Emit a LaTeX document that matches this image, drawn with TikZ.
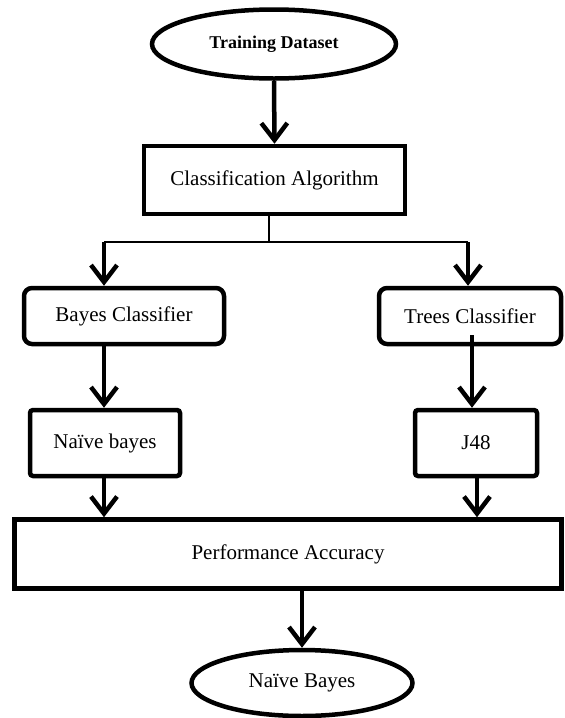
\documentclass[tikz,border=0pt]{standalone}
\usepackage{fontspec}
\setmainfont{Liberation Serif}
\usetikzlibrary{shapes.geometric,arrows.meta}

\begin{document}
\begin{tikzpicture}[x=1pt,y=-1pt,
    box/.style={draw,line width=4.5pt,inner sep=0pt,font=\fontsize{21}{24}\selectfont},
    oval/.style={box,ellipse},
    arr/.style={line width=4.5pt,-{Straight Barb[length=17pt,width=26pt]}}]
    \useasboundingbox (0,0) rectangle (565,718);
    \node[oval,minimum width=244pt,minimum height=69pt,font=\bfseries\fontsize{18}{20}\selectfont] (train) at (274,44) {Training Dataset};
    \node[box,minimum width=261pt,minimum height=68pt] (algo) at (274.5,180) {Classification Algorithm};
    \node[box,rounded corners=8pt,minimum width=200pt,minimum height=56pt] (bayes) at (124,316) {Bayes Classifier};
    \node[box,rounded corners=8pt,minimum width=182pt,minimum height=56pt] (trees) at (470,316) {Trees Classifier};
    \node[box,rounded corners=3pt,minimum width=150pt,minimum height=66pt] (nbayes) at (105,443) {Na\"ive bayes};
    \node[box,rounded corners=3pt,minimum width=122pt,minimum height=66pt] (j48) at (476,443) {J48};
    \node[box,minimum width=547pt,minimum height=69pt] (perf) at (288,554) {Performance Accuracy};
    \node[oval,minimum width=221pt,minimum height=66pt] (result) at (302,683) {Na\"ive Bayes};
    % split below the algorithm box
    \coordinate (split) at (269,242);
    \coordinate (splitL) at (104,242);
    \coordinate (splitR) at (468,242);
    \draw[arr] (train.south) -- (algo.north);
    \draw[line width=1.5pt] (split |- algo.south) -- (split);
    \draw[line width=1.5pt] (splitL) -- (splitR);
    \draw[arr] (splitL) -- (splitL |- bayes.north);
    \draw[arr] (splitR) -- (splitR |- trees.north);
    \draw[arr] (splitL |- bayes.south) -- (splitL |- nbayes.north);
    \draw[arr] ([xshift=2pt]trees.center |- 0,335) -- ([xshift=2pt]trees.center |- j48.north);
    \draw[arr] (splitL |- nbayes.south) -- (splitL |- perf.north);
    \draw[arr] ([xshift=7pt]trees.center |- j48.south) -- ([xshift=7pt]trees.center |- perf.north);
    \draw[arr] (result.north |- perf.south) -- (result.north);
\end{tikzpicture}
\end{document}
